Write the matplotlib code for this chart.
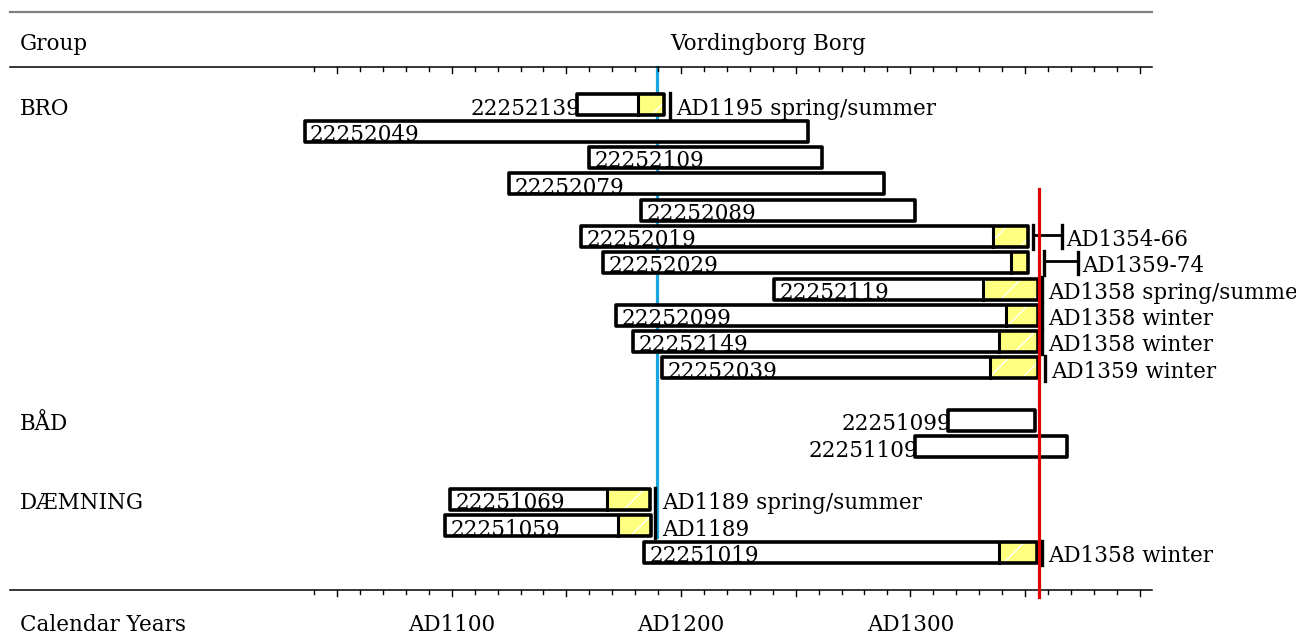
import matplotlib
matplotlib.use('Agg')
import matplotlib.pyplot as plt
from matplotlib.patches import Rectangle

plt.rcParams['font.family'] = ['DejaVu Serif']
plt.rcParams['hatch.color'] = 'white'
plt.rcParams['hatch.linewidth'] = 1.0

# samples (row index, first year, last year, start of sapwood / yellow part)
samples = ['22252139', '22252049', '22252109', '22252079', '22252089', '22252019',
           '22252029', '22252119', '22252099', '22252149', '22252039',
           '22251099', '22251109',
           '22251069', '22251059', '22251019']
rows = [0, 1, 2, 3, 4, 5, 6, 7, 8, 9, 10, 12, 13, 15, 16, 17]
first_year = [1154.7, 1036, 1160, 1125, 1182.7, 1156.4, 1166, 1240.6, 1171.7, 1179.1, 1191.9,
              1316.5, 1302, 1099.3, 1097.1, 1183.9]
last_year = [1192.6, 1255.5, 1261.5, 1288.5, 1302.2, 1351.4, 1351.4, 1355.5, 1355.5, 1355.5, 1355.5,
             1354.2, 1368.2, 1186.5, 1186.8, 1355.1]
sapwood_start = [1181.3, None, None, None, None, 1336.1, 1343.9, 1331.7, 1341.8, 1338.5, 1334.8,
                 None, None, 1167.7, 1172.6, 1338.7]
label_outside = ['22252139', '22251099', '22251109']

# felling dates (start, end) and their labels
felling_from = [1195, None, None, None, None, 1353.6, 1358.3, 1357.3, 1357.5, 1357.5, 1358.6,
                None, None, 1188.8, 1188.8, 1357.5]
felling_to = [None, None, None, None, None, 1366, 1373, None, None, None, None,
              None, None, None, None, None]
felling_text = ['AD1195 spring/summer', '', '', '', '', 'AD1354-66', 'AD1359-74',
                'AD1358 spring/summer', 'AD1358 winter', 'AD1358 winter', 'AD1359 winter',
                '', '', 'AD1189 spring/summer', 'AD1189', 'AD1358 winter']

groups = ['BRO', 'BÅD', 'DÆMNING']
group_rows = [0, 12, 15]

blue_year = 1189.7
red_year = 1356.2

tick_years = list(range(1040, 1401, 10))
label_years = [1100, 1200, 1300]

fig = plt.figure(figsize=(12.96, 6.41), dpi=100)
ax = fig.add_axes([0, 0, 1, 1])
ax.set_xlim(903.0, 1468.2)
ax.set_ylim(20.38, -3.99)
ax.axis('off')

fs = 15.5
ya = ax.get_yaxis_transform()

# header / footer rules
ax.plot([0.0077, 0.889], [-3.54, -3.54], color='#808080', lw=1.6, transform=ya)
ax.plot([0.0077, 0.889], [-1.445, -1.445], color='black', lw=1.1, transform=ya)
ax.plot([0.0077, 0.889], [18.44, 18.44], color='black', lw=1.1, transform=ya)
for yr in tick_years:
    ln = 0.24 if yr % 50 == 0 else 0.15
    for y0 in (-1.445, 18.44):
        ax.plot([yr, yr], [y0, y0 + ln], color='black', lw=1.0)
for yr in label_years:
    ax.text(yr, 19.99, 'AD%d' % yr, ha='center', va='baseline', fontsize=fs)

ax.text(0.0154, -2.09, 'Group', fontsize=fs, va='baseline', transform=ya)
ax.text(0.5926, -2.09, 'Vordingborg Borg', fontsize=fs, va='baseline', ha='center', transform=ya)
ax.text(0.0154, 19.99, 'Calendar Years', fontsize=fs, va='baseline', transform=ya)
for g, r in zip(groups, group_rows):
    ax.text(0.0154, r + 0.37, g, fontsize=fs, va='baseline', transform=ya)

# blue reference line behind the boxes
ax.plot([blue_year, blue_year], [-1.44, 16.43], color='#1aa7e0', lw=2.3, zorder=1)

h = 0.4
for i, name in enumerate(samples):
    r = rows[i]
    x0, x1 = first_year[i], last_year[i]
    ax.add_patch(Rectangle((x0, r - h), x1 - x0, 2 * h, facecolor='white', edgecolor='none', zorder=2))
    if sapwood_start[i] is not None:
        s = sapwood_start[i]
        ax.add_patch(Rectangle((s, r - h), x1 - s, 2 * h, facecolor='#ffff80', edgecolor='white',
                               lw=0, hatch='/', zorder=3))
        ax.plot([s, s], [r - h, r + h], color='black', lw=2.2, zorder=4)
    ax.add_patch(Rectangle((x0, r - h), x1 - x0, 2 * h, fill=False, edgecolor='black', lw=2.6,
                           joinstyle='round', zorder=4))
    if name in label_outside:
        ax.text(x0 + 1.5, r + 0.37, name, ha='right', va='baseline', fontsize=fs, zorder=5)
    else:
        ax.text(x0 + 2.2, r + 0.37, name, ha='left', va='baseline', fontsize=fs, zorder=5)

    f0 = felling_from[i]
    if f0 is None:
        continue
    ax.plot([f0, f0], [r - 0.44, r + 0.48], color='black', lw=2.4, zorder=5)
    f1 = felling_to[i]
    if f1 is not None:
        ax.plot([f0, f1], [r - 0.05, r - 0.05], color='black', lw=2.0, zorder=5)
        ax.plot([f1, f1], [r - 0.42, r + 0.42], color='black', lw=2.4, zorder=5)
        tx = f1 + 2
    else:
        tx = f0 + 2.8
    ax.text(tx, r + 0.37, felling_text[i], ha='left', va='baseline', fontsize=fs, zorder=5)

# red reference line on top
ax.plot([red_year, red_year], [3.19, 18.7], color='#e00000', lw=2.3, zorder=6)

fig.savefig('out.png', dpi=100)
